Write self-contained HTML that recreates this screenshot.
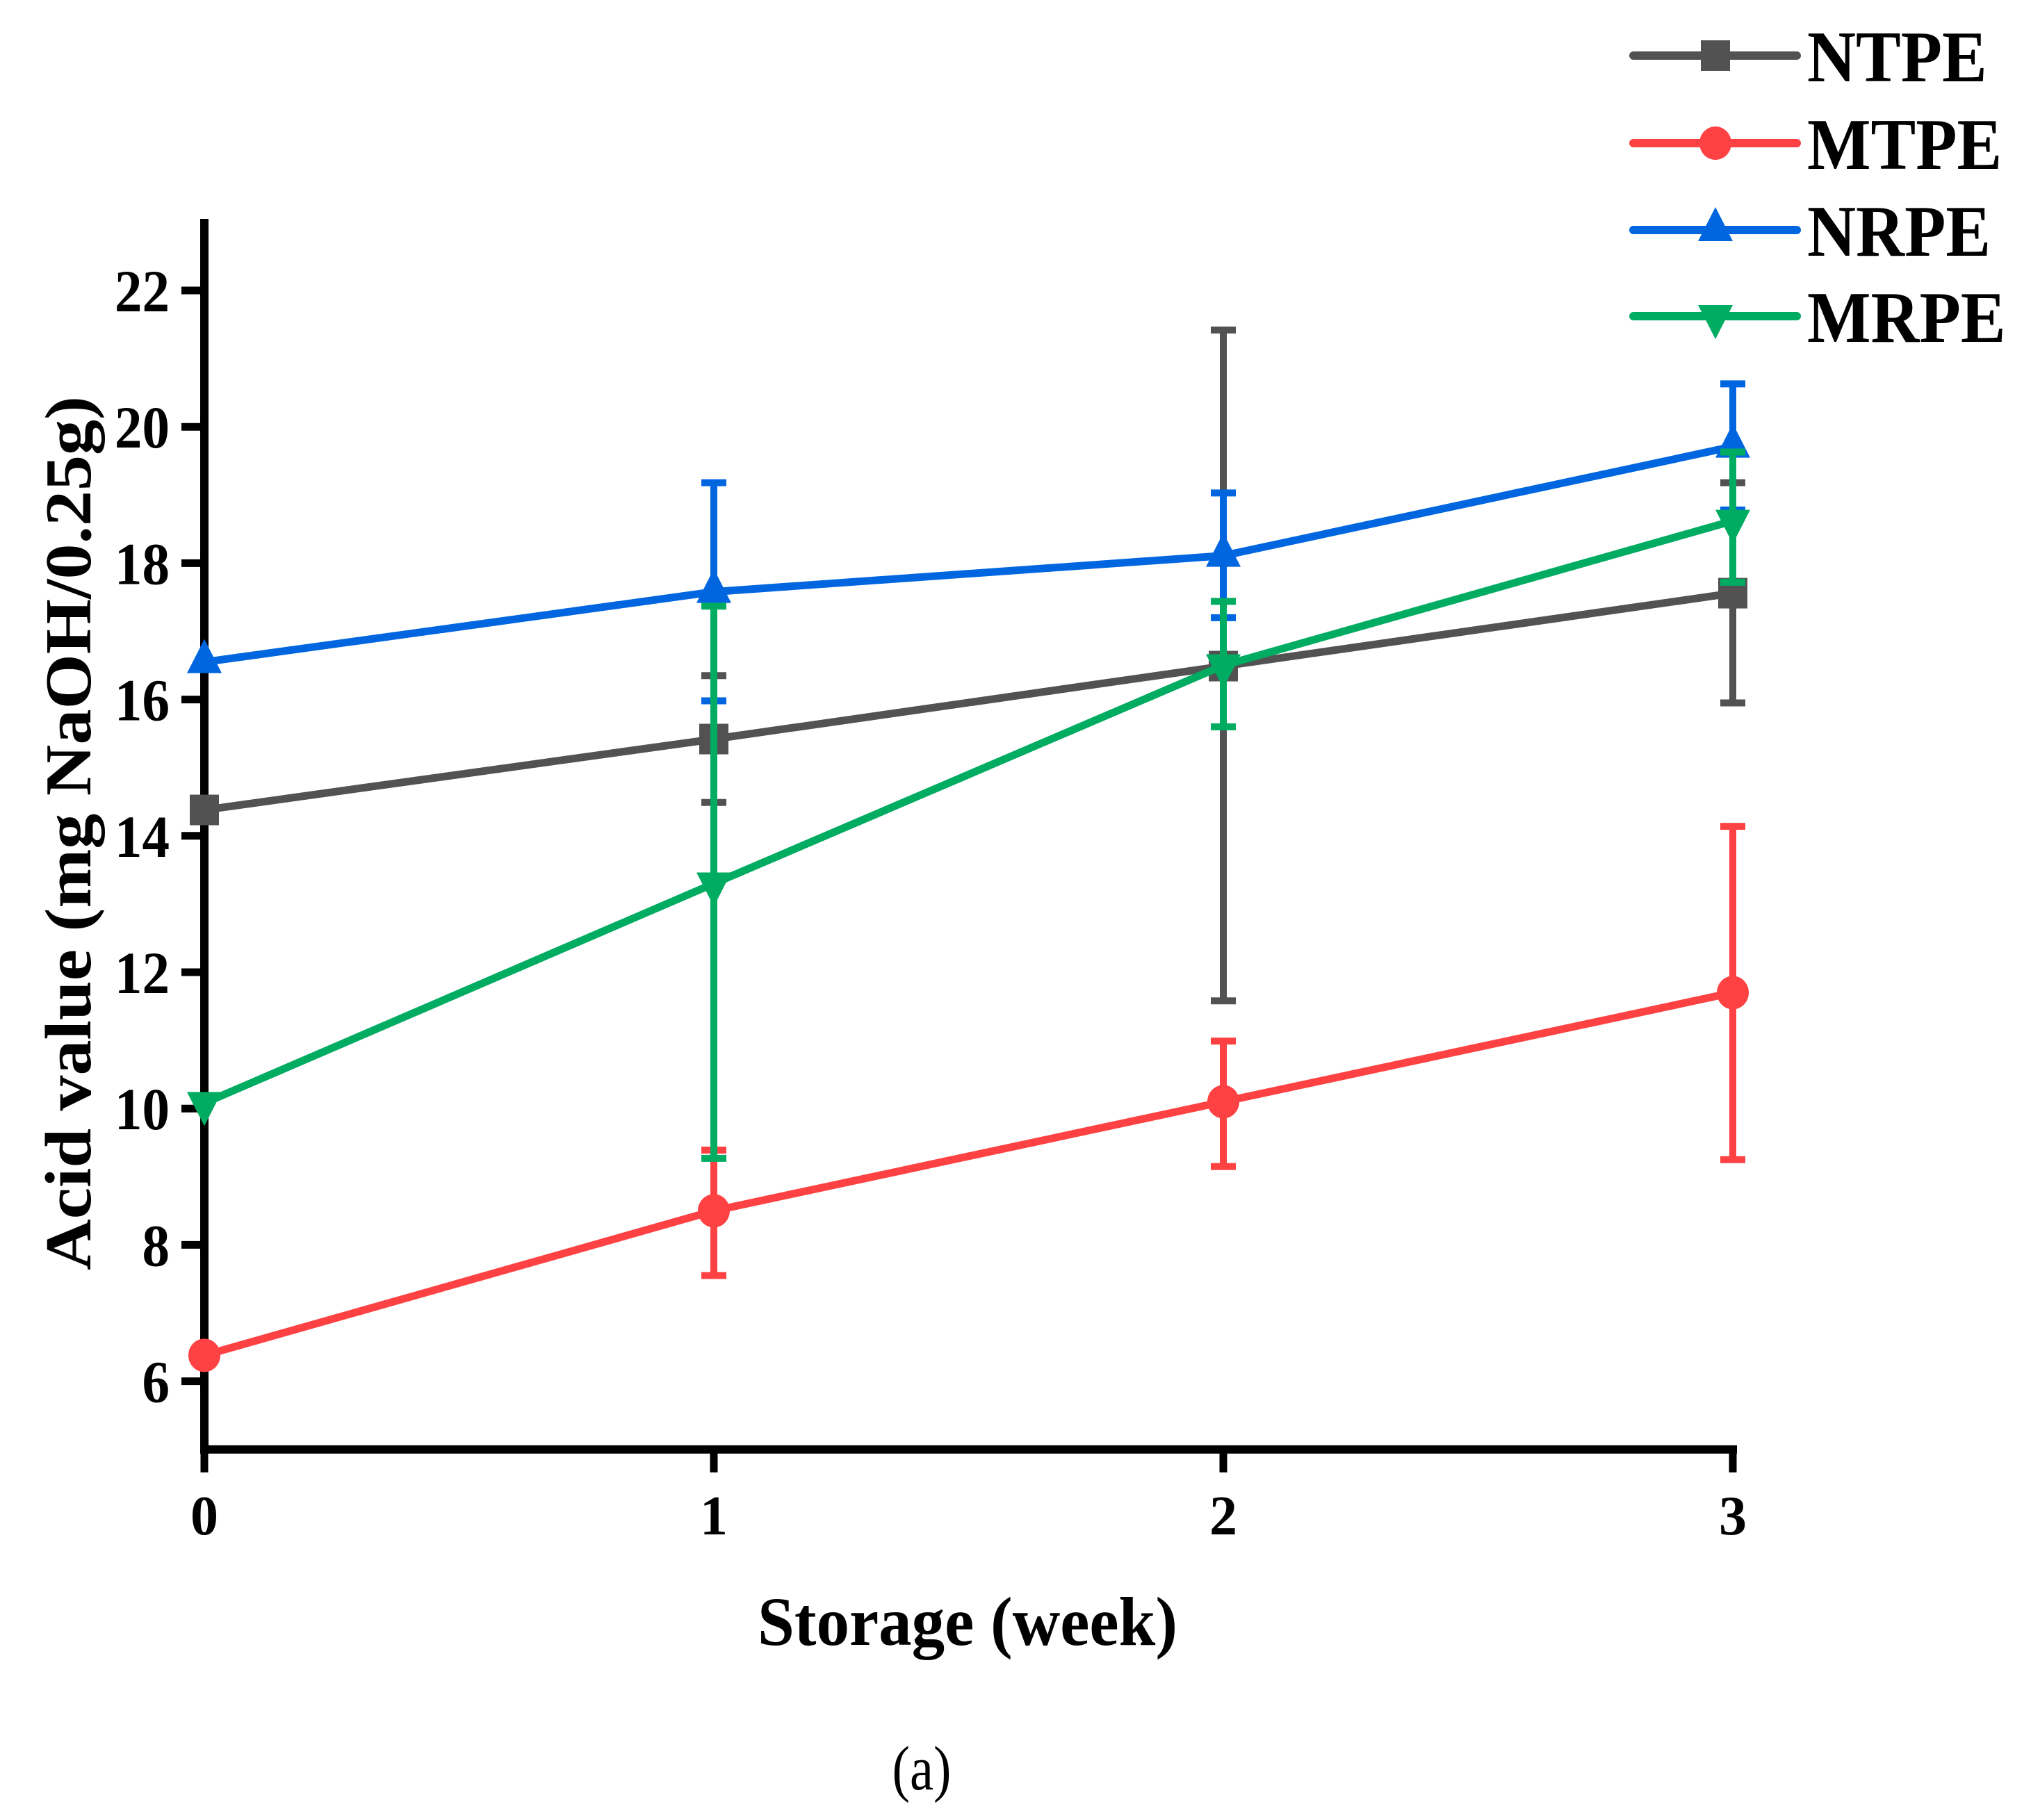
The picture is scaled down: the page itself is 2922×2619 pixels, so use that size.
<!DOCTYPE html>
<html><head><meta charset="utf-8"><style>
html,body{margin:0;padding:0;background:#fff;}
svg{display:block;font-family:"Liberation Serif",serif;}
</style></head><body>
<svg id="chart" width="2922" height="2619" viewBox="0 0 2922 2619" xmlns="http://www.w3.org/2000/svg">
<g id="plot"></g>
<text transform="translate(130,1199) rotate(-90) scale(1,0.92)" text-anchor="middle" font-size="102" font-weight="bold">Acid value (mg NaOH/0.25g)</text>
<text transform="translate(1392,2367) scale(0.95,1)" text-anchor="middle" font-size="100" font-weight="bold">Storage (week)</text>
<text transform="translate(1326,2575) scale(0.85,1)" text-anchor="middle" font-size="90">(a)</text>
<g id="legend"></g>
</svg>
<script>
const categories = [0, 1, 2, 3];
const yTicks = [6, 8, 10, 12, 14, 16, 18, 20, 22];
const seriesNames = ["NTPE", "MTPE", "NRPE", "MRPE"];
const ntpe = [14.38, 15.42, 16.49, 17.56];
const ntpeHi = [14.38, 16.35, 21.42, 19.18];
const ntpeLo = [14.38, 14.49, 11.58, 15.95];
const mtpe = [6.38, 8.5, 10.1, 11.7];
const mtpeHi = [6.38, 9.39, 10.99, 14.14];
const mtpeLo = [6.38, 7.55, 9.15, 9.25];
const nrpe = [16.55, 17.58, 18.11, 19.71];
const nrpeHi = [16.55, 19.18, 19.03, 20.63];
const nrpeLo = [16.55, 15.98, 17.2, 18.78];
const mrpe = [10.08, 13.3, 16.5, 18.62];
const mrpeHi = [10.08, 17.37, 17.44, 19.63];
const mrpeLo = [10.08, 9.27, 15.6, 17.72];

const NS = "http://www.w3.org/2000/svg";
const X0 = 294, XSTEP = 733;
const Y_AT22 = 418, PX_PER_UNIT = 98.1;
const xs = v => X0 + v * XSTEP;
const ys = v => Y_AT22 + (22 - v) * PX_PER_UNIT;
const plot = document.getElementById('plot');
function mk(tag, attrs, parent) {
  const e = document.createElementNS(NS, tag);
  for (const k in attrs) e.setAttribute(k, attrs[k]);
  parent.appendChild(e);
  return e;
}

const axes = mk('g', {}, plot);


const yAxis = mk('line', {x1: X0, y1: ys(23.05), x2: X0, y2: ys(5) + 6, stroke: '#000', 'stroke-width': 12}, axes);


const xAxis = mk('line', {x1: X0 - 6, y1: ys(5), x2: xs(3) + 6, y2: ys(5), stroke: '#000', 'stroke-width': 12}, axes);


yTicks.forEach(t => {
  const tk = mk('line', {x1: X0 - 33, y1: ys(t), x2: X0, y2: ys(t), stroke: '#000', 'stroke-width': 11}, axes);
  
  
  const lb = mk('text', {transform: `translate(${X0 - 50},${ys(t) + 30}) scale(0.92,1)`, 'text-anchor': 'end', 'font-size': 86, 'font-weight': 'bold'}, axes);
  lb.textContent = t;
  
  
});
categories.forEach(c => {
  const tk = mk('line', {x1: xs(c), y1: ys(5), x2: xs(c), y2: ys(5) + 33, stroke: '#000', 'stroke-width': 11}, axes);
  
  
  const lb = mk('text', {x: xs(c), y: 2208, 'text-anchor': 'middle', 'font-size': 80, 'font-weight': 'bold'}, axes);
  lb.textContent = c;
  
  
});

function marker(type, cx, cy, color, parent) {
  let m;
  if (type === 'square') m = mk('rect', {x: cx - 21, y: cy - 22, width: 42, height: 44, fill: color}, parent);
  else if (type === 'circle') m = mk('ellipse', {cx: cx, cy: cy, rx: 23, ry: 24, fill: color}, parent);
  else if (type === 'up') m = mk('polygon', {points: `${cx},${cy-33} ${cx+25},${cy+16} ${cx-25},${cy+16}`, fill: color}, parent);
  else m = mk('polygon', {points: `${cx},${cy+33} ${cx+25},${cy-16} ${cx-25},${cy-16}`, fill: color}, parent);
  return m;
}

const series = [
  {name: 'ntpe', vals: ntpe, hi: ntpeHi, lo: ntpeLo, color: '#525252', m: 'square'},
  {name: 'mtpe', vals: mtpe, hi: mtpeHi, lo: mtpeLo, color: '#fe4142', m: 'circle'},
  {name: 'nrpe', vals: nrpe, hi: nrpeHi, lo: nrpeLo, color: '#0066e0', m: 'up'},
  {name: 'mrpe', vals: mrpe, hi: mrpeHi, lo: mrpeLo, color: '#00ac61', m: 'down'}
];
series.forEach(s => {
  const g = mk('g', {}, plot);
  
  
  categories.forEach((c, i) => {
    if (s.hi[i] - s.lo[i] < 0.05) return;
    const x = xs(c);
    const eb = mk('path', {d: `M${x},${ys(s.hi[i])}V${ys(s.lo[i])}M${x-18},${ys(s.hi[i])}H${x+18}M${x-18},${ys(s.lo[i])}H${x+18}`, stroke: s.color, 'stroke-width': 10, fill: 'none'}, g);
    
    
  });
  const pts = categories.map((c, i) => xs(c) + ',' + ys(s.vals[i])).join(' ');
  const ln = mk('polyline', {points: pts, stroke: s.color, 'stroke-width': 11, fill: 'none', 'stroke-linejoin': 'round', 'stroke-linecap': 'round'}, g);
  
  
  categories.forEach((c, i) => {
    const mm = marker(s.m, xs(c), ys(s.vals[i]), s.color, g);
    
    
  });
});

const lg = document.getElementById('legend');
const legendY = [80, 206, 331, 455];
series.forEach((s, i) => {
  const g = mk('g', {}, lg);
  
  
  const y = legendY[i];
  mk('line', {x1: 2350, y1: y, x2: 2585, y2: y, stroke: s.color, 'stroke-width': 12, 'stroke-linecap': 'round'}, g);
  marker(s.m, 2468, y, s.color, g);
  const t = mk('text', {transform: `translate(2600,${y + 37}) scale(0.97,1.05)`, 'font-size': 100, 'font-weight': 'bold'}, g);
  t.textContent = seriesNames[i];
});
</script>
</body></html>
